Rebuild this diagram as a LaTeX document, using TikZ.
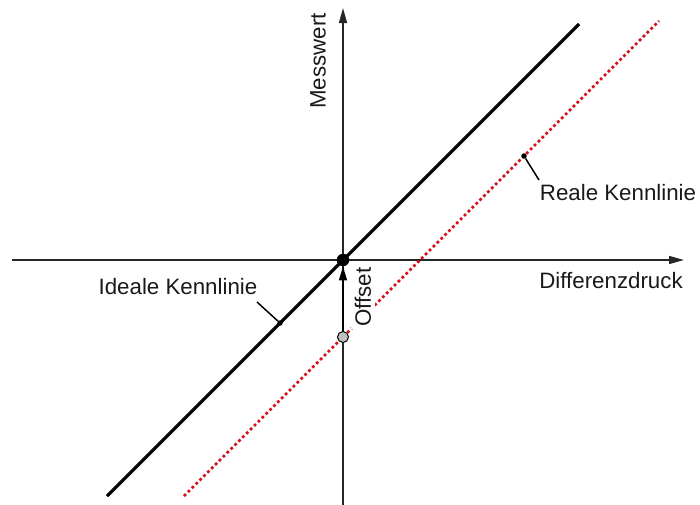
\documentclass[tikz,border=0pt]{standalone}
\usepackage{fontspec}
\setmainfont{Liberation Sans}
\usetikzlibrary{arrows.meta}
\definecolor{realred}{RGB}{212,16,24}
\definecolor{dotgray}{RGB}{192,192,192}
\begin{document}
\begin{tikzpicture}[x=1pt,y=-1pt,
  axis/.style={line width=1.6pt,draw=black!85,-{Triangle[length=15pt,width=8pt]}},
  ideal/.style={line width=3.2pt,black},
  real/.style={line width=2.8pt,realred,dash pattern=on 2.8pt off 2.7pt},
  lbl/.style={font=\fontsize{22.3}{26}\selectfont,text=black!90,inner sep=0pt},
  leader/.style={line width=1.5pt,black},
  smalldot/.style={circle,fill=black,inner sep=0pt,minimum size=5.5pt},
]
\useasboundingbox (0,0) rectangle (700,504);
% axes
\coordinate (xl) at (12,260);
\coordinate (xr) at (684,260);
\coordinate (yb) at (343,506);
\coordinate (yt) at (343,8);
\draw[axis] (xl) -- (xr);
\draw[axis] (yb) -- (yt);
% ideal line
\coordinate (ia) at (107,496);
\coordinate (ib) at (579,24);
\draw[ideal] (ia) -- (ib);
% real line
\coordinate (ra) at (184,496);
\coordinate (rb) at (659,21);
\draw[real] (ra) -- (rb);
% offset label covering the dotted line
\node[lbl,rotate=90,fill=white,inner xsep=2pt,inner ysep=4pt] (off) at (363,297) {Offset};
% points
\node[circle,fill=black,inner sep=0pt,minimum size=12.5pt] (o) at (343,260) {};
\node[circle,draw=black,line width=1pt,fill=dotgray,inner sep=0pt,minimum size=11pt] (g) at (343,337) {};
\draw[line width=1.6pt,black,-{Triangle[length=14pt,width=8pt]}] (g) -- (o);
% axis labels
\node[lbl,rotate=90] (mw) at (318,61) {Messwert};
\node[lbl] (dd) at (611,281) {Differenzdruck};
% curve labels
\node[lbl] (il) at (178,287) {Ideale Kennlinie};
\coordinate (ils) at (257,302);
\node[smalldot] (ild) at (280,323) {};
\draw[leader] (ils) -- (ild);
\node[lbl] (rl) at (618,193) {Reale Kennlinie};
\coordinate (rls) at (539,180);
\node[smalldot] (rld) at (524,156) {};
\draw[leader] (rls) -- (rld);
\end{tikzpicture}
\end{document}
